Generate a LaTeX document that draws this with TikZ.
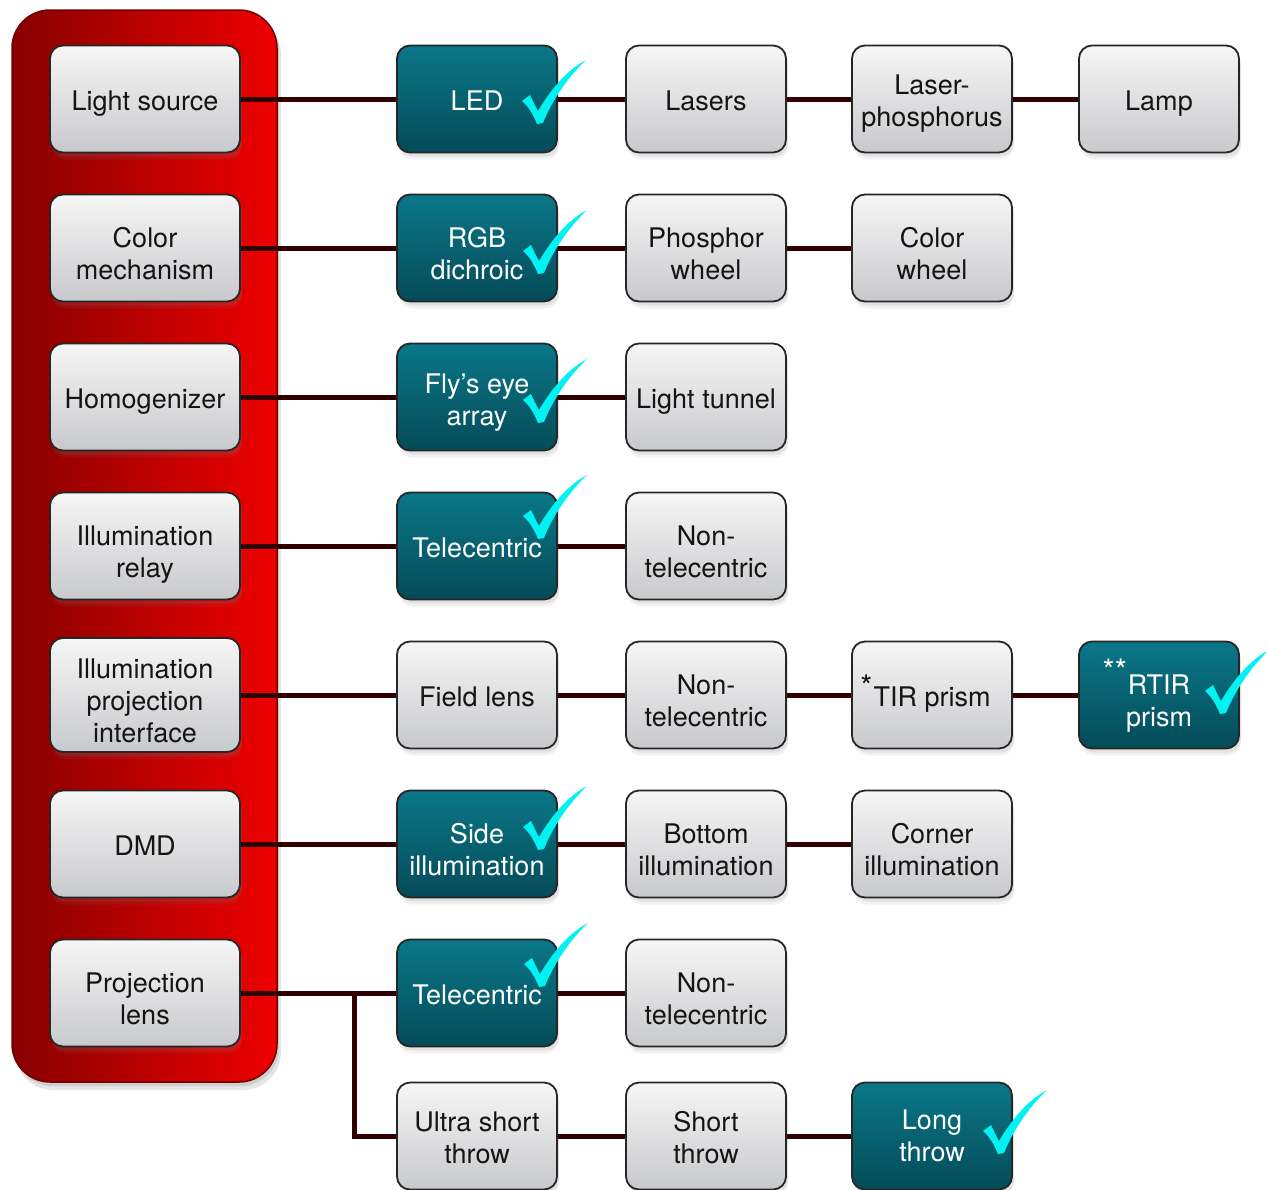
\documentclass[tikz,border=0pt]{standalone}
\usepackage{fontspec}
\setmainfont{TeX Gyre Heros}
\usetikzlibrary{shadows}
\definecolor{linec}{HTML}{300000}
\definecolor{tealtop}{HTML}{0A7788}
\definecolor{tealbot}{HTML}{054B58}
\definecolor{graytop}{HTML}{F6F6F6}
\definecolor{graybot}{HTML}{C8C9CC}
\definecolor{redl}{HTML}{870000}
\definecolor{redr}{HTML}{EE0000}
\definecolor{tickc}{HTML}{00F2F2}
\newcommand\chkmark[2]{\begin{scope}[shift={(#1,#2)}]
\fill[tickc] (-2,2) .. controls (-6,-8) and (-11,-16) .. (-17,-21)
  -- (-9,-27) .. controls (-6,-21) and (-4,-16) .. (-1,-11)
  .. controls (12,-33) and (28,-52) .. (47,-62)
  .. controls (30,-46) and (13,-22) .. (4,1) -- cycle;
\end{scope}}
\newcommand\astk[2]{\llap{\raisebox{#1}{\fontsize{31}{31}\selectfont #2}\kern1pt}}
\newcommand\mlr[1][38pt]{\rule{0pt}{#1}}
\begin{document}
\begin{tikzpicture}[x=1pt,y=-1pt,
  base/.style={rectangle, rounded corners=13pt, line width=1.8pt, align=center,
    minimum height=107pt, inner sep=2pt, font=\fontsize{27}{32}\selectfont,
    execute at begin node={\rule{0pt}{30pt}}, execute at end node={\rule[-8pt]{0pt}{0pt}},
    drop shadow={shadow xshift=2pt, shadow yshift=-7pt, opacity=0.10},
    drop shadow={shadow xshift=2pt, shadow yshift=-4pt, opacity=0.14}},
  gbox/.style={base, draw=black!85, top color=graytop, bottom color=graybot, text=black!92, minimum width=160pt},
  tbox/.style={base, draw=black!85, top color=tealtop, bottom color=tealbot, text=white, minimum width=160pt},
  lbox/.style={gbox, minimum width=190pt},
  conn/.style={draw=linec, line width=5pt}]
\useasboundingbox (0,0) rectangle (1266,1189);

% panel
\fill[black, opacity=0.10, rounded corners=38pt] (15,17) rectangle (281,1090);
\fill[black, opacity=0.10, rounded corners=38pt] (14,13) rectangle (279,1086);
\draw[rounded corners=38pt, draw=redl!85!black, line width=1.5pt,
  left color=redl, right color=redr] (12,10) rectangle (277,1082);

% left column
\node[lbox] (ls) at (145,99) {Light source};
\node[lbox] (cm) at (145,248) {\mlr Color\\mechanism};
\node[lbox] (ho) at (145,397) {Homogenizer};
\node[lbox] (ir) at (145,546) {\mlr Illumination\\relay};
\node[lbox] (ip) at (145,695) {\mlr Illumination\\projection\\interface};
\node[lbox] (dmd) at (145,844) {DMD};
\node[lbox] (pl) at (145,993) {\mlr Projection\\lens};

% row 1
\node[tbox] (led) at (477,99) {LED};
\node[gbox] (las) at (706,99) {Lasers};
\node[gbox] (lph) at (932,99) {\mlr[30pt]Laser-\\phosphorus};
\node[gbox] (lamp) at (1159,99) {Lamp};
% row 2
\node[tbox] (rgb) at (477,248) {\mlr RGB\\dichroic};
\node[gbox] (phw) at (706,248) {\mlr Phosphor\\wheel};
\node[gbox] (cw) at (932,248) {\mlr Color\\wheel};
% row 3
\node[tbox] (fly) at (477,397) {\mlr[32pt]Fly’s eye\\array};
\node[gbox] (lt) at (706,397) {Light tunnel};
% row 4
\node[tbox] (tc1) at (477,546) {Telecentric};
\node[gbox] (ntc1) at (706,546) {\mlr Non-\\telecentric};
% row 5
\node[gbox] (fl) at (477,695) {Field lens};
\node[gbox] (ntc2) at (706,695) {\mlr Non-\\telecentric};
\node[gbox] (tir) at (932,695) {\astk{9pt}{*}TIR prism};
\node[tbox] (rtir) at (1159,695) {\mlr\astk{13pt}{**}RTIR\\prism};
% row 6
\node[tbox] (side) at (477,844) {\mlr Side\\illumination};
\node[gbox] (bot) at (706,844) {\mlr Bottom\\illumination};
\node[gbox] (cor) at (932,844) {\mlr Corner\\illumination};
% row 7
\node[tbox] (tc2) at (477,993) {Telecentric};
\node[gbox] (ntc3) at (706,993) {\mlr Non-\\telecentric};
% row 8
\node[gbox] (ust) at (477,1136) {\mlr[30pt]Ultra short\\throw};
\node[gbox] (st) at (706,1136) {\mlr[30pt]Short\\throw};
\node[tbox] (lgt) at (932,1136) {\mlr[27pt]Long\\throw};

\coordinate (br) at (354,993);

% connectors
\draw[conn] (ls) -- (led); \draw[conn] (led) -- (las); \draw[conn] (las) -- (lph); \draw[conn] (lph) -- (lamp);
\draw[conn] (cm) -- (rgb); \draw[conn] (rgb) -- (phw); \draw[conn] (phw) -- (cw);
\draw[conn] (ho) -- (fly); \draw[conn] (fly) -- (lt);
\draw[conn] (ir) -- (tc1); \draw[conn] (tc1) -- (ntc1);
\draw[conn] (ip) -- (fl); \draw[conn] (fl) -- (ntc2); \draw[conn] (ntc2) -- (tir); \draw[conn] (tir) -- (rtir);
\draw[conn] (dmd) -- (side); \draw[conn] (side) -- (bot); \draw[conn] (bot) -- (cor);
\draw[conn] (pl) -- (tc2); \draw[conn] (tc2) -- (ntc3);
\draw[conn] (br) |- (ust); \draw[conn] (ust) -- (st); \draw[conn] (st) -- (lgt);

% check marks
\chkmark{539}{122}
\chkmark{540}{272}
\chkmark{540}{421}
\chkmark{540}{537}
\chkmark{1222}{712}
\chkmark{540}{848}
\chkmark{541}{985}
\chkmark{1000}{1152}
\end{tikzpicture}
\end{document}
